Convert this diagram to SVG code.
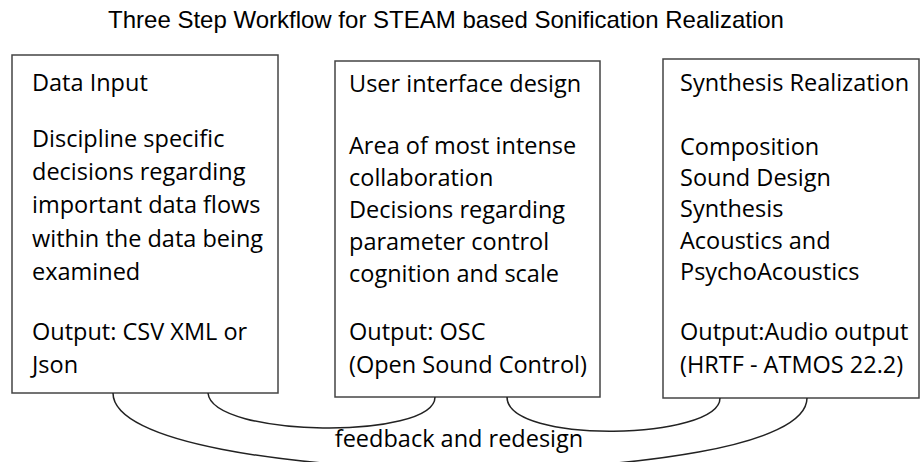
<svg xmlns="http://www.w3.org/2000/svg" width="921" height="462" viewBox="0 0 921 462">
<style>
.box{fill:#fff;stroke:#444;stroke-width:1.5}
.t{font-family:"Open Sans","Liberation Sans",sans-serif;font-size:23.5px;fill:#000}
.title{font-family:"Liberation Sans",Arial,sans-serif;font-size:24px;fill:#000;text-anchor:middle}
.c{fill:none;stroke:#222;stroke-width:1.5}
</style>
<rect width="921" height="462" fill="#fff"/>
<text class="title" x="446" y="28">Three Step Workflow for STEAM based Sonification Realization</text>
<g id="data-input">
<rect class="box" x="12" y="55" width="266" height="338"/>
<text class="t" x="32" y="91">Data Input</text>
<text class="t" x="32" y="147">Discipline specific</text>
<text class="t" x="32" y="180">decisions regarding</text>
<text class="t" x="32" y="213">important data flows</text>
<text class="t" x="32" y="247">within the data being</text>
<text class="t" x="32" y="280">examined</text>
<text class="t" x="32" y="340">Output: CSV XML or</text>
<text class="t" x="32" y="373">Json</text>
</g>
<g id="ui-design">
<rect class="box" x="335" y="61" width="265" height="336"/>
<text class="t" x="349" y="92">User interface design</text>
<text class="t" x="349" y="154">Area of most intense</text>
<text class="t" x="349" y="186">collaboration</text>
<text class="t" x="349" y="218">Decisions regarding</text>
<text class="t" x="349" y="250">parameter control</text>
<text class="t" x="349" y="282">cognition and scale</text>
<text class="t" x="349" y="340">Output: OSC</text>
<text class="t" x="349" y="373">(Open Sound Control)</text>
</g>
<g id="synthesis">
<rect class="box" x="663" y="59" width="256" height="339"/>
<text class="t" x="680" y="91">Synthesis Realization</text>
<text class="t" x="680" y="155">Composition</text>
<text class="t" x="680" y="186">Sound Design</text>
<text class="t" x="680" y="217">Synthesis</text>
<text class="t" x="680" y="249">Acoustics and</text>
<text class="t" x="680" y="280">PsychoAcoustics</text>
<text class="t" x="680" y="340">Output:Audio output</text>
<text class="t" x="680" y="373">(HRTF - ATMOS 22.2)</text>
</g>
<g id="connectors">
<path class="c" d="M113,393 C113,492 807,495 807,398"/>
<path class="c" d="M208,393 C212,438 435,440 435,397"/>
<path class="c" d="M507,397 C507,445 720,440 720,398"/>
<text class="t" x="459" y="447" text-anchor="middle">feedback and redesign</text>
</g>
</svg>
